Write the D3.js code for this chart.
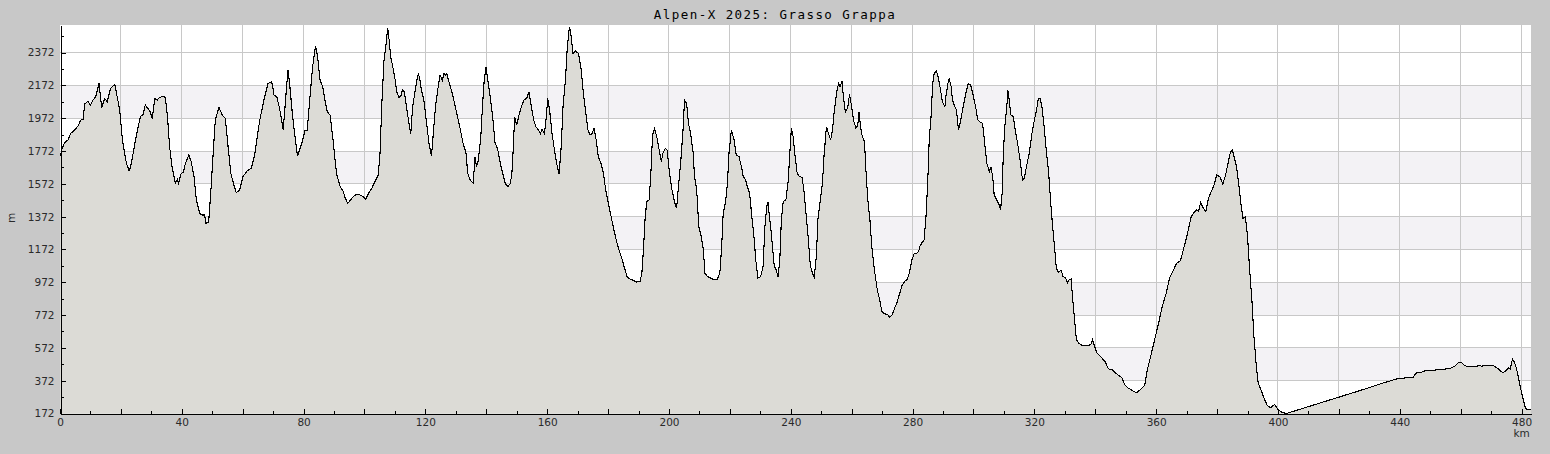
<!DOCTYPE html>
<html><head><meta charset="utf-8">
<script src="https://cdn.jsdelivr.net/npm/d3@7"></script>
<style>
html,body{margin:0;padding:0;background:#c8c8c8;}
svg{display:block;}
</style></head>
<body>
<svg id="chart" width="1550" height="454"></svg>
<script>
const titleText = "Alpen-X 2025: Grasso Grappa";
const xAxisLabel = "km";
const yAxisLabel = "m";
const xTickValues = [0,40,80,120,160,200,240,280,320,360,400,440,480];
const yTickValues = [172,372,572,772,972,1172,1372,1572,1772,1972,2172,2372];

const distanceKm = [
0,0.2,0.7,1.5,2.6,3.5,4.8,5.9,6.8,7.6,8.1,9.2,10.0,10.8,11.7,12.8,13.1,13.7,14.7,15.5,16.6,18.0,19.0,19.6,20.5,21.8,22.7,23.2,24.0,25.1,26.4,27.3,28.0,28.9,29.6,30.3,31.1,31.9,32.7,33.8,34.6,35.3,36.0,36.8,37.9,38.5,38.9,39.8,40.5,41.2,42.3,43.1,44.0,44.8,45.9,46.6,47.5,47.9,48.8,49.5,50.3,51.0,52.2,53.3,54.3,55.2,56.1,57.1,57.9,59.0,60.1,61.5,62.8,63.9,65.6,67.2,68.3,69.4,
69.8,70.3,71.2,72.0,72.8,73.3,73.9,74.4,74.9,75.5,76.4,77.2,78.0,79.4,80.5,81.2,82.1,82.9,83.9,84.6,85.4,86.3,87.0,87.8,88.7,89.8,90.8,92.0,93.0,93.7,94.5,95.2,96.3,97.4,98.5,99.5,100.4,101.2,102.4,103.4,104.5,105.1,105.7,106.4,107.1,107.6,108.1,108.6,109.3,110.0,110.6,111.3,112.0,112.5,113.1,113.8,114.6,115.2,115.8,116.6,117.1,117.7,118.2,118.7,119.5,120.4,121.2,122.0,122.6,123.3,124.2,124.8,125.6,126.1,126.7,127.0,127.9,129.0,130.3,131.4,132.5,133.3,133.9,134.7,135.7,136.3,136.8,137.4,138.2,138.8,139.3,
139.9,140.5,141.3,142.1,142.9,143.7,144.6,145.4,146.2,147.1,147.9,148.4,148.9,149.3,150.0,150.6,151.5,152.4,153.4,154.0,154.8,155.6,156.3,157.2,157.8,158.3,159.1,159.7,160.2,160.8,161.6,162.3,163.1,163.9,164.6,165.2,166.0,166.6,167.3,167.7,168.5,169.2,170.3,171.2,171.9,172.7,173.4,174.1,174.7,175.4,176.1,176.8,177.6,178.5,179.2,180.1,181.0,181.9,182.8,183.6,184.5,185.4,186.3,187.3,188.3,189.4,190.5,191.1,191.6,192.2,192.7,193.5,194.1,194.6,195.3,196.1,196.8,197.5,198.0,198.8,199.4,200.1,201.0,201.8,202.5,203.2,203.9,204.6,205.1,205.8,206.4,207.1,207.9,208.4,
209.1,209.8,210.6,211.3,211.8,212.6,213.7,214.8,215.9,216.7,217.3,217.8,218.6,219.2,219.7,220.5,221.4,222.1,223.0,223.8,224.4,225.2,225.7,226.5,227.2,227.9,228.5,229.2,230.1,230.9,231.5,232.1,232.5,233.0,233.6,234.1,234.6,235.2,235.8,236.4,236.9,237.5,238.4,239.2,239.6,240.2,240.8,241.3,242.1,242.9,243.7,244.3,245.0,245.7,246.4,247.1,247.7,248.4,248.9,249.7,250.4,250.9,251.7,252.4,253.1,253.7,254.2,255.1,255.7,256.2,256.8,257.3,257.9,258.7,259.3,260.0,260.6,261.4,262.0,262.4,262.9,263.4,264.2,264.8,265.3,266.0,266.6,267.2,267.7,268.4,269.2,269.9,270.8,271.7,272.5,273.3,274.1,275.0,275.8,276.6,277.4,278.3,
278.9,279.8,280.6,281.3,282.0,282.4,283.1,283.8,284.4,285.0,285.5,286.0,286.6,287.1,287.8,288.4,289.1,289.8,290.6,291.0,291.6,292.0,292.7,293.1,293.8,294.4,295.1,295.8,296.6,297.5,298.3,299.1,299.9,300.8,301.4,302.1,303.0,303.8,304.4,305.2,305.7,306.3,306.8,307.6,308.5,308.9,309.4,309.8,310.3,310.9,311.3,311.8,312.3,313.1,313.7,314.5,315.3,316.1,316.7,317.4,318.3,319.2,320.0,320.8,321.3,321.9,322.5,323.2,323.8,324.7,325.3,325.9,326.6,327.2,327.9,328.8,329.4,330.3,330.8,331.4,332.1,332.5,333.2,333.8,334.7,335.8,337.5,338.5,339.1,339.7,340.5,341.8,343.2,344.3,345.4,346.7,348.0,
348.8,349.6,350.7,352.0,353.5,354.9,356.2,357.1,358.2,359.5,360.8,362.0,363.3,364.4,365.5,366.7,368.0,368.9,369.9,370.8,371.5,372.4,373.2,373.9,374.6,375.5,376.3,377.2,378.1,379.0,379.9,380.9,381.9,382.8,383.6,384.4,385.0,385.6,386.4,387.1,387.8,388.5,389.3,390.0,390.7,391.5,392.1,392.9,393.5,394.4,395.4,396.5,397.6,398.4,398.9,399.8,401.2,402.8,
417.1,428.0,433.5,438.9,441.7,444.2,445.5,447.1,448.8,451.0,453.2,456.4,458.1,459.2,460.3,461.4,462.5,464.1,466.3,466.8,468.5,470.6,472.3,473.9,475.0,475.8,476.3,477.0,477.5,478.3,479.1,479.9,480.7,481.3,482.1,483.1
];

const elevationM = [
1740,1747,1788,1822,1839,1879,1900,1924,1960,1964,2058,2076,2052,2082,2102,2183,2133,2037,2092,2072,2153,2177,2082,2021,1839,1697,1652,1676,1757,1869,1981,1995,2052,2031,2011,1970,2092,2082,2098,2106,2098,1981,1798,1676,1575,1599,1575,1636,1640,1697,1747,1707,1616,1474,1392,1382,1382,1332,1336,1514,1757,1960,2037,1991,1970,1798,1636,1565,1518,1535,1616,1652,1666,1747,1960,2102,2183,2194,
2173,2112,2102,2041,1960,1899,2041,2163,2264,2163,1981,1859,1741,1818,1899,1899,2102,2275,2413,2346,2204,2163,2082,2011,1991,1818,1636,1555,1525,1484,1453,1468,1494,1508,1504,1494,1478,1510,1545,1585,1626,1757,2062,2325,2427,2524,2447,2346,2285,2214,2133,2098,2112,2147,2133,2041,1940,1879,2041,2133,2194,2245,2204,2143,2082,1940,1818,1741,1879,2041,2163,2234,2204,2245,2234,2245,2183,2112,2001,1910,1808,1767,1636,1595,1575,1737,1676,1717,1859,2062,2200,
2285,2204,2102,1981,1818,1788,1697,1636,1575,1555,1575,1636,1798,1981,1930,1981,2041,2082,2098,2133,2041,1960,1920,1899,1879,1904,1879,1981,2092,2021,1879,1788,1697,1632,1798,2041,2204,2406,2528,2498,2366,2382,2366,2264,2123,2001,1899,1869,1879,1910,1839,1737,1700,1636,1534,1453,1372,1291,1220,1169,1119,1058,1003,991,983,973,977,1027,1169,1372,1463,1474,1656,1869,1910,1849,1778,1707,1757,1788,1778,1646,1534,1463,1423,1575,1717,1899,2082,2062,1940,1879,1767,1616,
1534,1312,1251,1169,1027,1007,997,987,991,1027,1190,1392,1463,1575,1757,1899,1839,1747,1737,1676,1616,1595,1555,1514,1372,1251,1109,997,1007,1068,1312,1433,1463,1372,1271,1169,1068,1048,1003,1109,1352,1463,1474,1595,1737,1910,1859,1757,1636,1616,1612,1534,1392,1251,1078,1027,1003,1129,1352,1474,1575,1737,1920,1879,1839,1899,2001,2133,2183,2163,2198,2102,2011,2037,2119,2041,1960,1910,1930,2011,1920,1869,1828,1616,1474,1352,1190,1088,1017,926,865,794,780,776,760,774,814,855,906,956,977,991,
1027,1109,1149,1149,1159,1190,1214,1230,1372,1595,1859,1960,2183,2245,2260,2224,2153,2072,2041,2112,2183,2214,2163,2082,2045,2021,1899,1960,2041,2123,2183,2173,2112,2031,1964,1950,1940,1798,1697,1646,1676,1616,1504,1474,1443,1413,1514,1757,1920,2031,2143,2072,1991,1981,1899,1818,1717,1595,1605,1676,1757,1879,1960,2031,2092,2092,2041,1920,1798,1636,1474,1332,1190,1058,1034,1044,1007,997,967,987,993,885,743,622,598,585,585,592,622,585,541,517,490,444,440,419,399,
389,349,328,314,298,318,342,440,521,622,723,825,906,997,1038,1088,1104,1169,1240,1312,1372,1397,1413,1403,1458,1423,1403,1484,1525,1565,1626,1616,1571,1626,1697,1767,1778,1737,1676,1575,1453,1362,1372,1251,1048,845,642,460,359,318,267,221,207,221,227,201,180,172,
255,318,352,382,389,389,420,424,436,436,440,446,460,481,481,464,456,456,464,460,466,466,444,420,436,450,444,505,491,450,379,308,247,201,196,196
];

const W = 1550, H = 454;
const plot = {left: 60, right: 1531, top: 25, bottom: 413.5};
const svg = d3.select("#chart");

const x = d3.scaleLinear().domain([0, 483.1]).range([plot.left, plot.right]);
const y = d3.scaleLinear().domain([172, 2540]).range([plot.bottom, plot.top]);

const data = distanceKm.map((d, i) => ({km: d, m: elevationM[i]}));

svg.append("rect").attr("x", plot.left).attr("y", plot.top)
  .attr("width", plot.right - plot.left).attr("height", plot.bottom - plot.top)
  .attr("fill", "#ffffff");

for (let i = 1; i < yTickValues.length - 1; i += 2) {
  const y0 = y(yTickValues[i + 1]), y1 = y(yTickValues[i]);
  svg.append("rect").attr("x", plot.left).attr("y", y0)
    .attr("width", plot.right - plot.left).attr("height", y1 - y0)
    .attr("fill", "#f3f2f5");
}

const grid = svg.append("g").attr("stroke", "#c8c8c8").attr("stroke-width", 1).attr("shape-rendering", "crispEdges");
d3.range(20, 483, 20).forEach(v => {
  grid.append("line").attr("x1", x(v)).attr("x2", x(v)).attr("y1", plot.top).attr("y2", plot.bottom);
});
yTickValues.slice(1).forEach(v => {
  grid.append("line").attr("x1", plot.left).attr("x2", plot.right).attr("y1", y(v)).attr("y2", y(v));
});

const area = d3.area().x(d => x(d.km)).y0(plot.bottom).y1(d => y(d.m));
const line = d3.line().x(d => x(d.km)).y(d => y(d.m));
svg.append("path").datum(data).attr("d", area).attr("fill", "#dcdbd6");
svg.append("path").datum(data).attr("d", line).attr("fill", "none")
  .attr("stroke", "#000").attr("stroke-width", 1.1).attr("shape-rendering", "crispEdges");

const font = "DejaVu Sans, sans-serif";
const yMinor = d3.axisLeft(y).tickValues(d3.range(272, 2540, 200)).tickSize(-3).tickSizeOuter(0).tickFormat("");
const yMajor = d3.axisLeft(y).tickValues(yTickValues).tickSize(-5).tickSizeOuter(0).tickPadding(6).tickFormat(d3.format("d"));
const xMinor = d3.axisBottom(x).tickValues(d3.range(10, 483, 20)).tickSize(-3).tickSizeOuter(0).tickFormat("");
const xMid = d3.axisBottom(x).tickValues(d3.range(20, 483, 40)).tickSize(-5).tickSizeOuter(0).tickFormat("");
const xMajor = d3.axisBottom(x).tickValues(xTickValues).tickSize(-5).tickSizeOuter(0).tickPadding(5).tickFormat(d3.format("d"));

function style(g) {
  g.attr("shape-rendering", "crispEdges");
  g.selectAll("path.domain").attr("stroke", "#000");
  g.selectAll(".tick line").attr("stroke", "#000");
  g.selectAll("text").attr("fill", "#2a2a2a").style("font-family", font).style("font-size", "10.5px");
}
svg.append("g").attr("transform", `translate(${plot.left + 0.5},0)`).call(yMinor).call(style);
svg.append("g").attr("transform", `translate(${plot.left + 0.5},0)`).call(yMajor).call(style);
svg.append("g").attr("transform", `translate(0,${plot.bottom})`).call(xMinor).call(style);
svg.append("g").attr("transform", `translate(0,${plot.bottom})`).call(xMid).call(style);
svg.append("g").attr("transform", `translate(0,${plot.bottom})`).call(xMajor).call(style);

svg.append("text").attr("x", 775).attr("y", 18.5).attr("text-anchor", "middle")
  .style("font-family", "DejaVu Sans Mono, monospace").style("font-size", "12.5px")
  .style("letter-spacing", "1.45px").attr("fill", "#000").text(titleText);
svg.append("text").attr("x", x(480)).attr("y", 437).attr("text-anchor", "middle")
  .style("font-family", font).style("font-size", "10.5px").attr("fill", "#2a2a2a").text(xAxisLabel);
svg.append("text").attr("transform", "translate(15,218) rotate(-90)").attr("text-anchor", "middle")
  .style("font-family", font).style("font-size", "10.5px").attr("fill", "#2a2a2a").text(yAxisLabel);
</script>
</body></html>
